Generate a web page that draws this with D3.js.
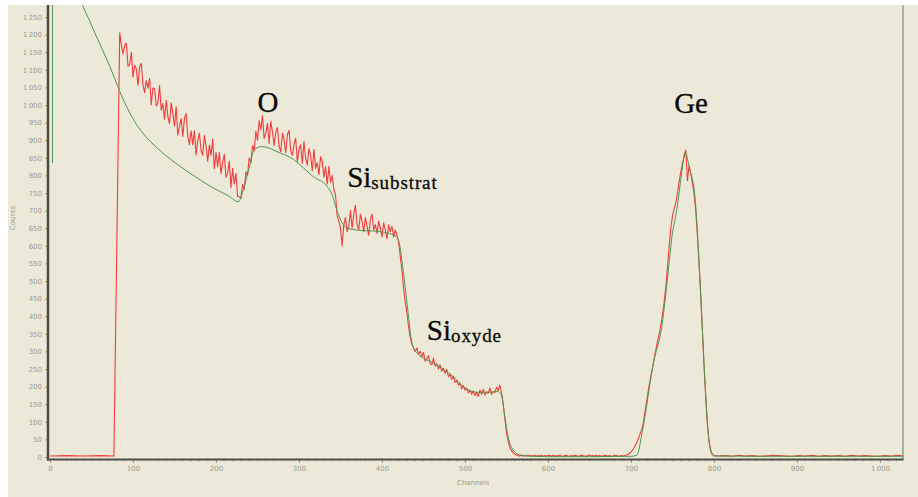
<!DOCTYPE html>
<html><head><meta charset="utf-8">
<script src="https://cdn.jsdelivr.net/npm/d3@7"></script>
<style>body{margin:0;background:#fff;} svg{display:block;}</style>
</head><body><svg id="c" width="918" height="497"></svg>
<script>
// ---------- DATA ----------
const yTickValues = d3.range(0, 1251, 50);
const xTickValues = d3.range(0, 1001, 100);

// measured spectrum (red), low-channel baseline
const redLeadChannels = [0, 20, 40, 60, 77];
const redLeadCounts = [3, 4, 3, 4, 3];

// measured spectrum, channels 84..600, every 2 channels
const redStart = 84, redStep = 2;
const redCounts = [
 1205,1170,1145,1170,1175,1110,1115,1150,1080,1113,
 1102,1056,1109,1118,1057,1035,1069,1048,1076,1000,
 1048,1047,997,1006,1055,985,1004,959,1013,967,
 947,1006,976,940,995,915,941,961,911,961,
 976,912,887,927,887,927,858,899,920,871,
 857,913,884,840,886,857,903,819,865,825,
 865,805,835,860,795,805,840,765,820,775,
 805,740,740,
 735,775,760,810,800,850,835,885,870,925,900,
 955,930,970,905,920,948,891,953,924,885,
 923,936,884,867,920,902,864,916,928,870,
 857,889,906,838,875,887,834,896,848,830,
 876,857,813,874,820,836,802,853,839,795,
 825,775,825,780,800,760,745,685,
 670,650,600,660,680,640,655,700,650,690,
 715,660,645,690,670,640,680,655,630,675,
 690,645,660,635,670,650,625,665,645,620,
 660,640,655,625,645,630,610,
 570,530,480,440,410,370,340,320,310,300,
 310,292,300,285,297,272,280,288,266,262,
 281,258,265,250,262,244,252,238,249,228,
 236,220,230,212,218,204,210,193,203,190,
 196,182,190,178,188,175,183,172,190,178,
 192,176,185,181,196,178,186,183,198,188,
 204,182,
 150,110,70,45,28,18,12,8,6,4,
 3,5,2,4,3,6,2,4,3,5,
 2,4,3,5,2,4,3,5
];

// measured spectrum, channels 602..688, every 2 channels
const redFlatStart = 602;
const redFlatCounts = [4,3,5,2,4,3,6,3,2,4, 5,3,2,4,3,5,4,2,3,5,
 4,3,2,4,6,3,4,2,5,3, 4,3,2,5,4,3,4,2,3,5, 4,3,2,4];

// measured spectrum, Ge peak, channels 690..800, every 2 channels
const redGeStart = 690;
const redGeCounts = [3,4,5,7,10,14,20,27,36,47,
 60,72,86,115,145,175,205,230,255,280,
 305,330,350,375,405,440,485,540,600,650,
 685,705,722,750,782,810,835,852,872,785,
 828,805,778,748,700,630,550,460,360,260,
 170,95,45,20,8,4];

// measured spectrum, channels 806.., every 8 channels
const redTailStart = 806, redTailStep = 8;
const redTailCounts = [3,4,2,5,3,4,2,3,5,4,3,2,4,3,5,2,4,3,4,2,5,3,4,3,2,4,3,5,3];

// simulated fit (green)
const fitChannels = [3,4,10,25,32,38,46,54,63,72,80,87,93,102,112,130,145,165,181,200,215,227,
 232,240,246,255,262,275,293,305,317,334,340,345,349,355,365,398,416,420,425,431,436,
 442,461,486,498,514,530,539,544,548,552,558,566,580,600,650,700,707,714,727,737,745,
 749,755,761,765,771,777,781,785,789,793,797,800,850,900,950,1000,1028];
const fitCounts = [835,8000,3000,1370,1328,1290,1248,1205,1158,1110,1063,1022,992,953,920,876,846,812,787,760,742,725,
 752,822,872,882,879,866,846,822,797,768,745,705,680,655,646,640,628,615,540,420,325,
 296,268,228,200,184,184,186,176,114,57,20,6,2,1,1,2,5,77,267,369,530,
 620,700,805,865,815,740,597,409,219,68,10,3,2,2,2,2,2];

const labels = [
  {main: "O", sub: "", ch: 250, v: 980},
  {main: "Si", sub: "substrat", ch: 358, v: 766},
  {main: "Si", sub: "oxyde", ch: 454, v: 332},
  {main: "Ge", sub: "", ch: 752, v: 978}
];

// ---------- CHART ----------
const svg = d3.select('#c');
svg.append('rect').attr('x', 8).attr('y', 5).attr('width', 910).attr('height', 492).attr('fill', '#ece9d8');

const x = d3.scaleLinear().domain([0, 1000]).range([50, 880]);
const y = d3.scaleLinear().domain([0, 1250]).range([457, 17]);

const plotLeft = 48, plotRight = 903, plotTop = 5, plotBottom = 460;

svg.append('clipPath').attr('id', 'clip').append('rect')
  .attr('x', plotLeft + 1).attr('y', plotTop).attr('width', plotRight - plotLeft - 1).attr('height', plotBottom - plotTop - 1);

// build red points
const redPts = [];
redLeadChannels.forEach((c, i) => redPts.push([c, redLeadCounts[i]]));
redCounts.forEach((v, i) => redPts.push([redStart + i * redStep, v]));
redFlatCounts.forEach((v, i) => redPts.push([redFlatStart + i * 2, v]));
redGeCounts.forEach((v, i) => redPts.push([redGeStart + i * 2, v]));
redTailCounts.forEach((v, i) => redPts.push([redTailStart + i * redTailStep, v]));

const fitPts = fitChannels.map((c, i) => [c, fitCounts[i]]);

const line = d3.line().x(d => x(d[0])).y(d => y(d[1]));
const fitLine = d3.line().x(d => x(d[0])).y(d => y(d[1])).curve(d3.curveMonotoneX);

const g = svg.append('g').attr('clip-path', 'url(#clip)');
g.append('path').datum(redPts).attr('d', line).attr('fill', 'none')
  .attr('stroke', '#f03c3c').attr('stroke-width', 1.1).attr('stroke-linejoin', 'round');
g.append('path').datum(fitPts).attr('d', fitLine).attr('fill', 'none')
  .attr('stroke', '#4f9650').attr('stroke-width', 1);

// axes
const fmt = d => d >= 1000 ? d3.format(",")(d).replace(",", "\u2009") : String(d);
const yAxis = svg.append('g').attr('transform', `translate(${plotLeft - 1},0)`)
  .call(d3.axisLeft(y).tickValues(yTickValues).tickSize(2).tickPadding(3).tickFormat(fmt));
const xAxis = svg.append('g').attr('transform', `translate(0,${plotBottom})`)
  .call(d3.axisBottom(x).tickValues(xTickValues).tickSize(3).tickPadding(3).tickFormat(fmt));
[yAxis, xAxis].forEach(a => {
  a.select('.domain').remove();
  a.selectAll('.tick line').attr('stroke', '#9a9a90');
  a.selectAll('.tick text').attr('fill', '#9a9a92').style('font', '7px "DejaVu Sans", sans-serif');
});
// minor ticks on x
svg.append('g').selectAll('line').data(d3.range(0, 1030, 10)).join('line')
  .attr('x1', d => x(d)).attr('x2', d => x(d)).attr('y1', plotBottom).attr('y2', plotBottom + 1.5)
  .attr('stroke', '#a0a098').attr('stroke-width', 0.8);

// frame
svg.append('line').attr('x1', plotRight).attr('x2', plotRight).attr('y1', plotTop).attr('y2', plotBottom)
  .attr('stroke', '#7f8a78').attr('stroke-width', 1.2);
svg.append('line').attr('x1', plotLeft).attr('x2', plotLeft).attr('y1', plotTop).attr('y2', plotBottom + 0.5)
  .attr('stroke', '#4b4b44').attr('stroke-width', 2.5);
svg.append('line').attr('x1', plotLeft - 1).attr('x2', plotRight + 0.5).attr('y1', plotBottom - 0.5).attr('y2', plotBottom - 0.5)
  .attr('stroke', '#4e4e46').attr('stroke-width', 2);

// axis titles
svg.append('text').attr('transform', 'translate(15,218) rotate(-90)').attr('text-anchor', 'middle')
  .attr('fill', '#9a9a92').style('font', '7px "DejaVu Sans", sans-serif').text('Counts');
svg.append('text').attr('x', 457).attr('y', 485)
  .attr('fill', '#9a9a92').style('font', '7px "DejaVu Sans", sans-serif').text('Channels');

// peak labels
labels.forEach(l => {
  const t = svg.append('text').attr('x', x(l.ch)).attr('y', y(l.v))
    .attr('fill', '#0a0a0a').attr('stroke', '#0a0a0a').attr('stroke-width', 0.3)
    .style('font-family', '"Liberation Serif", serif');
  t.append('tspan').style('font-size', '29px').text(l.main);
  if (l.sub) t.append('tspan').attr('dy', 2).style('font-size', '19px').style('letter-spacing', '0.9px').text(l.sub);
});
</script></body></html>
